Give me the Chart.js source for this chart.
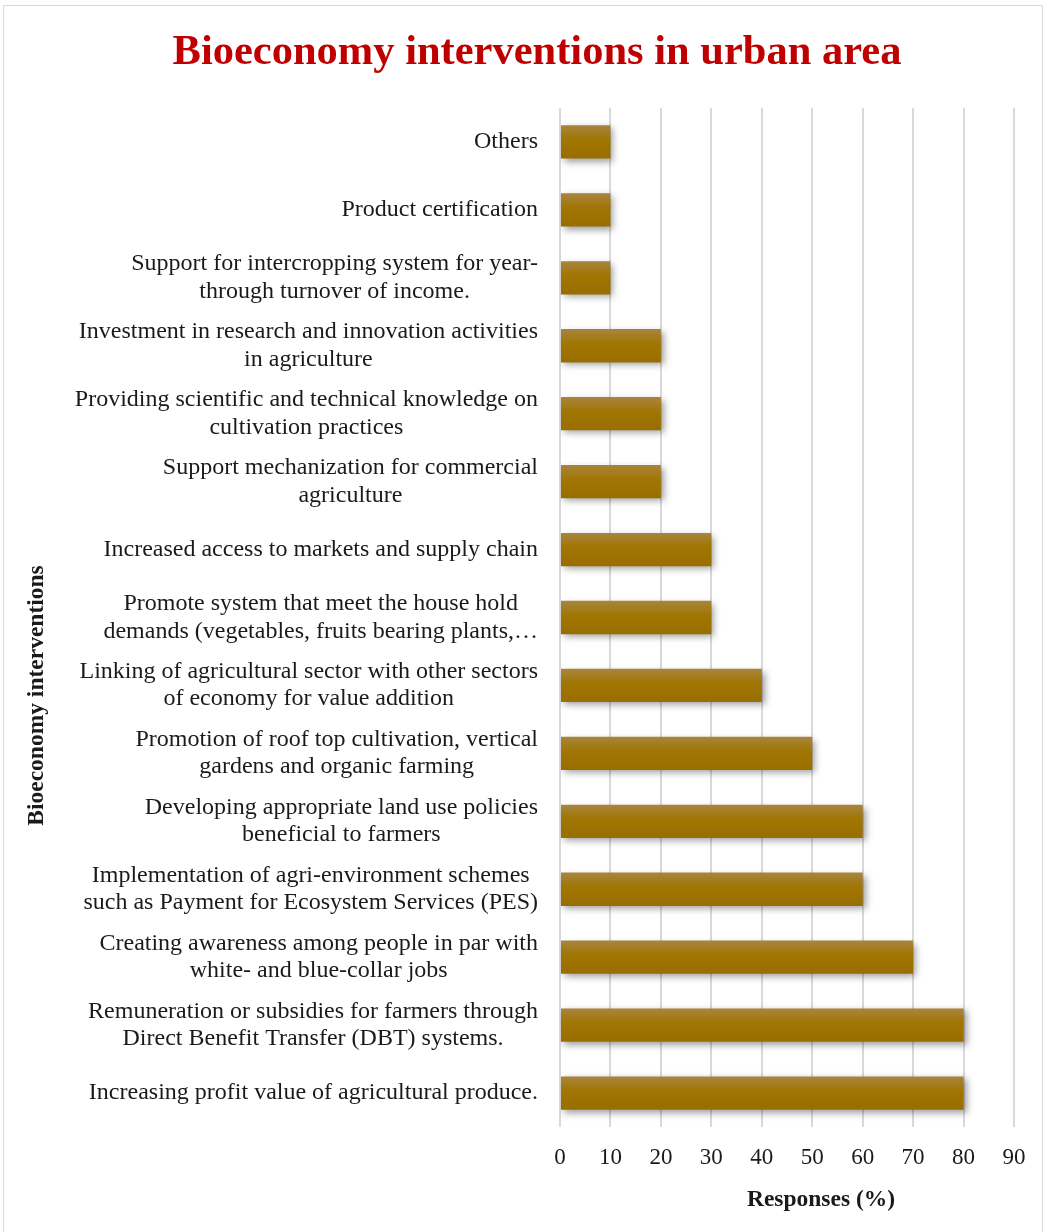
<!DOCTYPE html>
<html>
<head>
<meta charset="utf-8">
<title>Bioeconomy interventions in urban area</title>
<script src="https://cdn.jsdelivr.net/npm/chart.js@4.4.1/dist/chart.umd.min.js"></script>
<style>
  html, body { margin: 0; padding: 0; background: #fff; }
  #wrap { position: relative; width: 1046px; height: 1232px; overflow: hidden; }
  #frame { position: absolute; left: 3px; top: 5px; width: 1038px; height: 1240px;
           border: 1.5px solid #d9d9d9; pointer-events: none; }
</style>
</head>
<body>
<div id="wrap">
  <canvas id="chart" width="1046" height="1232"></canvas>
  <div id="frame"></div>
</div>
<script>
// -------------------------------
// Data (top to bottom, as in the picture)
// -------------------------------
const categories = [
  ["Others"],
  ["Product certification"],
  ["Support for intercropping system for year-", "through turnover of income."],
  ["Investment in research and innovation activities", "in agriculture"],
  ["Providing scientific and technical knowledge on", "cultivation practices"],
  ["Support mechanization for commercial", "agriculture"],
  ["Increased access to markets and supply chain"],
  ["Promote system that meet the house hold", "demands (vegetables, fruits bearing plants,\u2026"],
  ["Linking of agricultural sector with other sectors", "of economy for value addition"],
  ["Promotion of roof top cultivation, vertical", "gardens and organic farming"],
  ["Developing appropriate land use policies", "beneficial to farmers"],
  ["Implementation of agri-environment schemes", "such as Payment for Ecosystem Services (PES)"],
  ["Creating awareness among people in par with", "white- and blue-collar jobs"],
  ["Remuneration or subsidies for farmers through", "Direct Benefit Transfer (DBT) systems."],
  ["Increasing profit value of agricultural produce."]
];
const responses = [10, 10, 10, 20, 20, 20, 30, 30, 40, 50, 60, 60, 70, 80, 80];

const xMin = 0;
const xMax = 90;
const xStep = 10;

const chartTitle = "Bioeconomy interventions in urban area";
const xTitle = "Responses (%)";
const yTitle = "Bioeconomy interventions";

const SERIF = "'Liberation Serif', 'Times New Roman', serif";
const TEXT = "#1a1a1a";
const BAR_PCT = 0.49;

// -------------------------------
// Bar gradient (per bar, from the y scale)
// -------------------------------
function barFill(ctx) {
  const chart = ctx.chart;
  const y = chart.scales.y;
  if (!y || ctx.dataIndex === undefined) return "#9f7300";
  const center = y.getPixelForValue(ctx.dataIndex);
  const band = (y.bottom - y.top) / categories.length;
  const h = band * BAR_PCT;
  if (!isFinite(center) || !isFinite(h) || h <= 0) return "#9f7300";
  const g = chart.ctx.createLinearGradient(0, center - h / 2, 0, center + h / 2);
  g.addColorStop(0, "#a8853f");
  g.addColorStop(0.45, "#a07500");
  g.addColorStop(1, "#996e00");
  return g;
}

// -------------------------------
// Plugins: bar shadow, title, category labels, axis titles
// -------------------------------
const barShadow = {
  id: "barShadow",
  beforeDatasetDraw(chart) {
    const c = chart.ctx;
    c.save();
    c.shadowColor = "rgba(0,0,0,0.38)";
    c.shadowBlur = 7;
    c.shadowOffsetX = 3;
    c.shadowOffsetY = 3;
  },
  afterDatasetDraw(chart) {
    chart.ctx.restore();
  }
};

const mainTitle = {
  id: "mainTitle",
  afterDraw(chart) {
    const c = chart.ctx;
    c.save();
    c.font = "bold 42.5px " + SERIF;
    c.fillStyle = "#c00000";
    c.textAlign = "center";
    c.textBaseline = "alphabetic";
    c.fillText(chartTitle, chart.width / 2 + 14, 64);
    c.restore();
  }
};

const categoryLabels = {
  id: "categoryLabels",
  afterDraw(chart) {
    const c = chart.ctx;
    const y = chart.scales.y;
    const right = chart.chartArea.left - 22;
    const lineH = 27.5;
    c.save();
    c.font = "24px " + SERIF;
    c.fillStyle = TEXT;
    c.textAlign = "center";
    c.textBaseline = "middle";
    categories.forEach((lines, i) => {
      const w = Math.max(...lines.map((l) => c.measureText(l).width));
      const cx = right - w / 2;
      const cy = y.getPixelForTick(i);
      lines.forEach((l, k) => {
        c.fillText(l, cx, cy + (k - (lines.length - 1) / 2) * lineH);
      });
    });
    c.restore();
  }
};

const axisTitles = {
  id: "axisTitles",
  afterDraw(chart) {
    const c = chart.ctx;
    const a = chart.chartArea;
    c.save();
    c.font = "bold 23.5px " + SERIF;
    c.fillStyle = TEXT;
    c.textAlign = "center";
    c.textBaseline = "middle";
    // x title sits a bit right of the plot centre, like the original
    c.fillText(xTitle, (a.left + a.right) / 2 + 34, a.bottom + 73);
    // y title, rotated
    c.translate(37, (a.top + a.bottom) / 2 + 78);
    c.rotate(-Math.PI / 2);
    c.fillText(yTitle, 0, 0);
    c.restore();
  }
};

// -------------------------------
// Chart
// -------------------------------
new Chart(document.getElementById("chart"), {
  type: "bar",
  data: {
    labels: categories,
    datasets: [
      {
        label: xTitle,
        data: responses,
        backgroundColor: barFill,
        borderWidth: 0,
        barPercentage: BAR_PCT,
        categoryPercentage: 1
      }
    ]
  },
  plugins: [barShadow, mainTitle, categoryLabels, axisTitles],
  options: {
    indexAxis: "y",
    responsive: false,
    animation: false,
    devicePixelRatio: 1,
    layout: { padding: { left: 0, right: 32, top: 108, bottom: 0 } },
    plugins: {
      legend: { display: false },
      tooltip: { enabled: false },
      title: { display: false }
    },
    scales: {
      x: {
        min: xMin,
        max: xMax,
        ticks: {
          stepSize: xStep,
          color: TEXT,
          font: { family: SERIF, size: 23 },
          padding: 17
        },
        grid: { color: "#d9d9d9", lineWidth: 2, drawTicks: false },
        border: { display: false },
        afterFit(scale) {
          scale.height = 105;
        }
      },
      y: {
        ticks: { display: false },
        grid: { display: false },
        border: { display: false },
        afterFit(scale) {
          scale.width = 560;
        }
      }
    }
  }
});
</script>
</body>
</html>
